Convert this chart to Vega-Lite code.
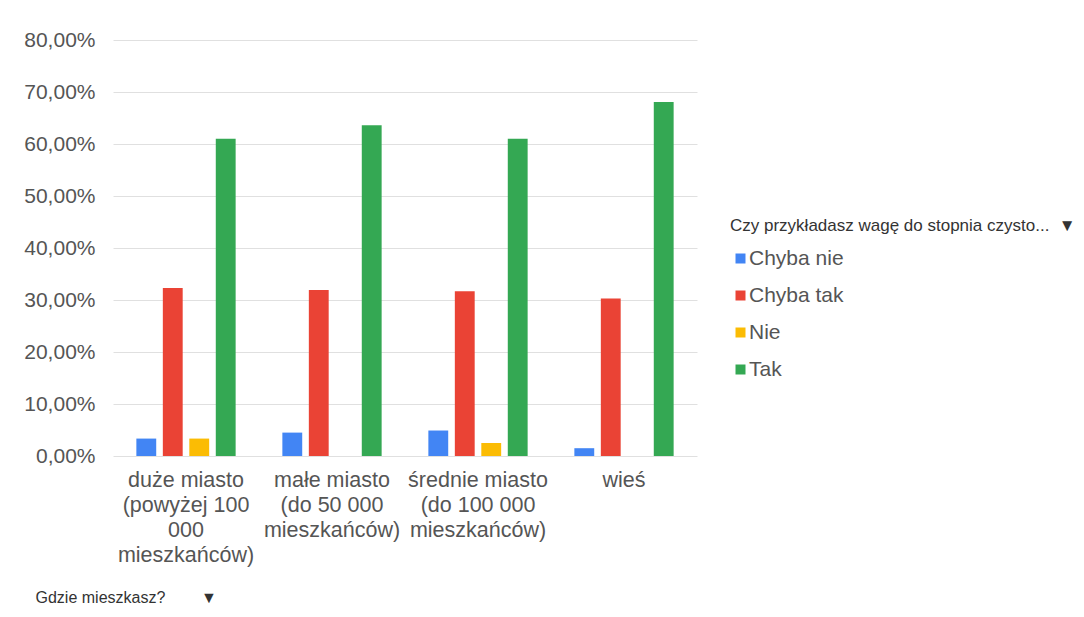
{
  "$schema": "https://vega.github.io/schema/vega-lite/v6.json",
  "autosize": "none",
  "width": 584,
  "height": 416,
  "padding": {"left": 113, "top": 40, "right": 387, "bottom": 161},
  "background": "white",
  "config": {
    "font": "Liberation Sans",
    "view": {"stroke": null}
  },
  "data": {
    "values": [
      {"miejsce": "duże miasto (powyżej 100 000 mieszkańców)", "odpowiedz": "Chyba nie", "procent": 3.35},
      {"miejsce": "duże miasto (powyżej 100 000 mieszkańców)", "odpowiedz": "Chyba tak", "procent": 32.3},
      {"miejsce": "duże miasto (powyżej 100 000 mieszkańców)", "odpowiedz": "Nie", "procent": 3.35},
      {"miejsce": "duże miasto (powyżej 100 000 mieszkańców)", "odpowiedz": "Tak", "procent": 61.0},
      {"miejsce": "małe miasto (do 50 000 mieszkańców)", "odpowiedz": "Chyba nie", "procent": 4.5},
      {"miejsce": "małe miasto (do 50 000 mieszkańców)", "odpowiedz": "Chyba tak", "procent": 31.9},
      {"miejsce": "małe miasto (do 50 000 mieszkańców)", "odpowiedz": "Tak", "procent": 63.6},
      {"miejsce": "średnie miasto (do 100 000 mieszkańców)", "odpowiedz": "Chyba nie", "procent": 4.9},
      {"miejsce": "średnie miasto (do 100 000 mieszkańców)", "odpowiedz": "Chyba tak", "procent": 31.7},
      {"miejsce": "średnie miasto (do 100 000 mieszkańców)", "odpowiedz": "Nie", "procent": 2.5},
      {"miejsce": "średnie miasto (do 100 000 mieszkańców)", "odpowiedz": "Tak", "procent": 61.0},
      {"miejsce": "wieś", "odpowiedz": "Chyba nie", "procent": 1.5},
      {"miejsce": "wieś", "odpowiedz": "Chyba tak", "procent": 30.3},
      {"miejsce": "wieś", "odpowiedz": "Tak", "procent": 68.1}
    ]
  },
  "mark": {"type": "bar"},
  "encoding": {
    "x": {
      "field": "miejsce",
      "type": "nominal",
      "sort": null,
      "scale": {"paddingInner": 0.32, "paddingOuter": 0.16},
      "axis": {
        "title": "Gdzie mieszkasz?\u00a0\u00a0\u00a0\u00a0\u00a0\u00a0\u00a0\u00a0▼",
        "titleFont": "Liberation Sans",
        "titleFontSize": 16,
        "titleFontWeight": "normal",
        "titleColor": "#333333",
        "titleAnchor": "start",
        "titleAlign": "left",
        "titleBaseline": "middle",
        "titleX": -78,
        "titleY": 141,
        "labelAngle": 0,
        "labelAlign": "center",
        "labelBaseline": "top",
        "labelFontSize": 21.5,
        "labelColor": "#555555",
        "labelPadding": 13,
        "labelLineHeight": 25,
        "labelOverlap": false,
        "labelLimit": 300,
        "domain": false,
        "ticks": false,
        "labelExpr": "datum.value == 'duże miasto (powyżej 100 000 mieszkańców)' ? ['duże miasto', '(powyżej 100', '000', 'mieszkańców)'] : datum.value == 'małe miasto (do 50 000 mieszkańców)' ? ['małe miasto', '(do 50 000', 'mieszkańców)'] : datum.value == 'średnie miasto (do 100 000 mieszkańców)' ? ['średnie miasto', '(do 100 000', 'mieszkańców)'] : datum.value"
      }
    },
    "xOffset": {
      "field": "odpowiedz",
      "type": "nominal",
      "scale": {"domain": ["Chyba nie", "Chyba tak", "Nie", "Tak"], "paddingInner": 0.25, "paddingOuter": 0}
    },
    "y": {
      "field": "procent",
      "type": "quantitative",
      "scale": {"domain": [0, 80], "nice": false},
      "axis": {
        "title": null,
        "values": [0, 10, 20, 30, 40, 50, 60, 70, 80],
        "labelExpr": "replace(format(datum.value, '.2f'), '.', ',') + '%'",
        "labelFontSize": 21,
        "labelColor": "#555555",
        "labelPadding": 18,
        "domain": false,
        "ticks": false,
        "gridColor": "#e0e0e0",
        "gridWidth": 1
      }
    },
    "color": {
      "field": "odpowiedz",
      "type": "nominal",
      "scale": {
        "domain": ["Chyba nie", "Chyba tak", "Nie", "Tak"],
        "range": ["#4285f4", "#ea4335", "#fbbc04", "#34a853"]
      },
      "legend": {
        "title": "Czy przykładasz wagę do stopnia czysto...\u00a0\u00a0▼",
        "orient": "none",
        "legendX": 617,
        "legendY": 178,
        "padding": 0,
        "titleFont": "Liberation Sans",
        "titleFontSize": 17,
        "titleFontWeight": "normal",
        "titleColor": "#333333",
        "titleLimit": 400,
        "titleBaseline": "top",
        "titlePadding": 13,
        "symbolType": "square",
        "symbolSize": 100,
        "symbolStrokeWidth": 0,
        "symbolOffset": 0,
        "labelFontSize": 21,
        "labelColor": "#555555",
        "labelOffset": -2,
        "rowPadding": 15
      }
    }
  }
}
